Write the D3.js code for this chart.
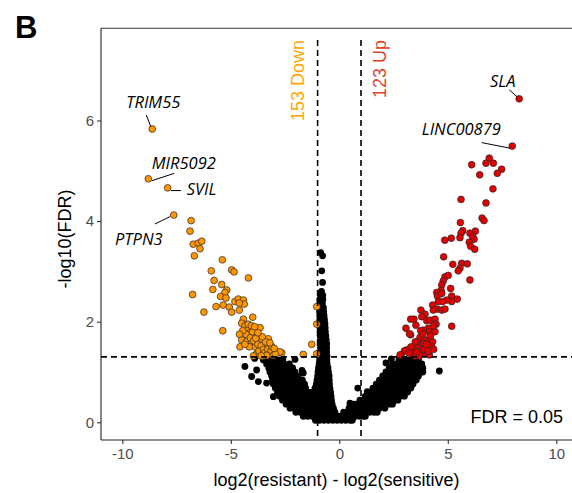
<!DOCTYPE html>
<html><head><meta charset="utf-8">
<script src="https://cdn.jsdelivr.net/npm/d3@7"></script>
<style>body{margin:0;background:#fff}</style>
</head><body><svg id="c" width="572" height="493"></svg>
<script>
const xTicks = [-10, -5, 0, 5, 10];
const yTicks = [0, 2, 4, 6];
const fcCut = 1;
const fdrLine = 1.30103; // -log10(0.05)
const downCount = "153 Down";
const upCount = "123 Up";
const fdrNote = "FDR = 0.05";
const xTitle = "log2(resistant) - log2(sensitive)";
const yTitle = "-log10(FDR)";

// significant, lower in resistant (orange)
const downPoints = [
  [-8.62,5.83],[-8.80,4.84],[-7.91,4.66],[-7.63,4.12],
  [-6.83,4.01],[-6.88,3.80],[-6.73,3.54],[-6.50,3.56],[-6.34,3.60],[-6.42,3.45],[-6.68,3.31],
  [-5.39,3.23],[-5.90,3.01],[-4.96,3.03],[-4.85,2.99],[-4.19,2.87],[-5.77,2.82],[-5.42,2.74],[-5.83,2.64],[-6.76,2.54],
  [-5.19,2.63],[-5.27,2.58],[-5.47,2.50],[-5.22,2.47],[-4.81,2.40],[-4.65,2.45],[-4.42,2.43],[-4.38,2.35],[-4.61,2.37],
  [-5.68,2.30],[-5.35,2.33],[-5.07,2.29],[-4.96,2.19],[-4.61,2.23],[-6.24,2.19],
  [-4.42,2.05],[-3.99,2.09],[-4.50,1.97],[-4.35,1.91],[-4.19,1.87],[-3.96,1.83],[-3.65,1.88],[-4.12,1.78],[-3.88,1.74],[-5.37,1.82],
  [-4.50,1.64],[-4.27,1.60],[-4.04,1.57],[-4.58,1.50],[-3.81,1.60],[-3.58,1.65],[-3.27,1.66],[-3.19,1.54],[-3.42,1.50],[-3.65,1.47],[-3.88,1.50],
  [-3.35,1.40],[-3.58,1.37],[-3.81,1.36],[-2.88,1.40],[-2.65,1.38],[-3.96,1.32],[-3.50,1.32],[-2.73,1.40],
  [-1.66,1.35],[-1.27,1.55],[-1.04,2.30],[-1.04,1.95],[-1.04,1.36],
  [-4.30,1.75],[-4.10,1.68],[-3.95,1.62],[-3.75,1.55],[-3.70,1.42],[-3.60,1.52],[-3.50,1.45],[-3.45,1.38],[-3.30,1.45],[-3.25,1.35],
  [-3.15,1.42],[-3.05,1.33],[-3.10,1.50],[-3.40,1.60],[-3.55,1.70],[-3.85,1.67],[-4.00,1.80],[-4.20,1.95],[-4.05,1.92],[-3.90,1.90],
  [-3.75,1.78],[-4.45,1.82],[-4.60,1.75],[-3.35,1.33],[-3.60,1.32],[-2.95,1.36],[-3.00,1.47],[-3.20,1.58],[-4.15,1.50],[-4.35,1.55]
];

// significant, higher in resistant (red)
const upPoints = [
  [8.29,6.43],[7.97,5.49],
  [6.91,5.25],[6.10,5.12],[6.76,5.15],[7.10,5.15],[7.48,5.03],[7.28,4.95],[6.47,4.92],[7.08,4.64],[5.61,4.43],[6.76,4.36],
  [6.58,4.06],[6.67,4.01],[5.58,3.97],[5.69,3.81],[5.61,3.76],[6.27,3.80],[6.02,3.76],[6.15,3.69],[5.56,3.67],[5.16,3.66],
  [4.86,3.62],[6.21,3.64],[5.99,3.58],[6.05,3.50],[6.24,3.44],[4.81,3.29],
  [5.23,3.14],[5.64,3.16],[5.90,3.15],[5.56,3.06],[5.48,3.01],[6.02,2.83],[4.87,2.89],[5.02,2.92],[4.79,2.81],
  [5.13,2.66],[4.72,2.73],[4.69,2.62],[4.49,2.58],[4.52,2.51],[4.72,2.56],
  [5.18,2.51],[5.44,2.45],[5.18,2.40],[4.95,2.43],[4.76,2.40],[4.56,2.40],[4.30,2.33],[4.52,2.25],[4.72,2.23],[4.87,2.25],[4.33,2.23],
  [3.76,2.23],[3.95,2.15],[3.80,2.10],[3.44,2.05],[4.03,2.02],[4.18,2.03],[4.41,2.05],[4.46,1.95],[4.33,1.91],[4.10,1.87],
  [4.15,1.80],[4.41,1.80],[3.87,1.83],[3.75,1.82],[3.53,1.93],[3.07,1.87],[3.29,1.74],[5.18,1.91],
  [3.72,1.69],[3.95,1.64],[4.18,1.65],[4.30,1.60],[3.84,1.57],[3.57,1.52],[4.03,1.50],[4.26,1.50],[3.80,1.45],[3.41,1.44],
  [3.11,1.44],[3.34,1.36],[3.00,1.42],[2.85,1.34],[3.64,1.37],[3.95,1.37],[4.15,1.34],[3.49,1.32],[2.80,1.34],[3.23,1.76],[3.29,2.05],
  [3.60,1.60],[3.90,1.45],[4.10,1.42],[3.70,1.32],[4.00,1.55],[3.50,1.60],[4.20,1.72],[3.85,1.75],[3.30,1.50],[3.20,1.38],[4.35,1.45],[3.55,1.40]
];

// non-significant genes, read row by row: [-log10(FDR), [log2 ratios]]
const nsRows = [
  [2.60, [-0.82]],
  [2.52, [-0.86,-0.76]],
  [2.44, [-0.90,-0.76]],
  [2.36, [-0.90,-0.78]],
  [2.28, [-0.92,-0.80,-0.73]],
  [2.20, [-0.91,-0.80,-0.72]],
  [2.12, [-0.90,-0.79,-0.70]],
  [2.04, [-0.90,-0.78,-0.68]],
  [1.96, [-0.89,-0.77,-0.66]],
  [1.88, [-0.89,-0.77,-0.65]],
  [1.80, [-0.88,-0.76,-0.64]],
  [1.72, [-0.88,-0.75,-0.62]],
  [1.64, [-0.87,-0.73,-0.60]],
  [1.56, [-0.86,-0.72,-0.58]],
  [1.48, [-0.87,-0.72,-0.58]],
  [1.40, [-0.88,-0.73,-0.58]],
  [1.32, [-0.89,-0.73,-0.57]],
  [1.24, [-3.50,-3.30,-3.10,-2.90,-2.75,-2.60, -0.91,-0.74,-0.57, 2.75,2.95,3.15,3.35,3.50,3.65]],
  [1.16, [-3.35,-3.15,-2.95,-2.75,-2.55,-2.30, -0.93,-0.76,-0.56, 2.45,2.65,2.85,3.05,3.25,3.45,3.65,3.80]],
  [1.08, [-3.25,-3.05,-2.85,-2.65,-2.45,-2.30,-2.15, -0.96,-0.78,-0.60,-0.52, 2.30,2.50,2.70,2.90,3.10,3.30,3.50,3.70,3.85]],
  [1.00, [-3.20,-3.00,-2.80,-2.60,-2.40,-2.20,-2.05, -0.98,-0.80,-0.62,-0.50, 2.15,2.35,2.55,2.75,2.95,3.15,3.35,3.55,3.75,3.85]],
  [0.92, [-3.12,-2.92,-2.72,-2.52,-2.32,-2.12,-1.90, -1.00,-0.82,-0.64,-0.47, 2.00,2.20,2.40,2.60,2.80,3.00,3.20,3.40,3.65]],
  [0.84, [-3.08,-2.88,-2.68,-2.48,-2.28,-2.08,-1.88,-1.70, -1.03,-0.85,-0.66,-0.46, 1.85,2.05,2.25,2.45,2.65,2.85,3.05,3.25,3.40,3.55]],
  [0.76, [-3.04,-2.84,-2.64,-2.44,-2.24,-2.04,-1.84,-1.60, -1.06,-0.88,-0.68,-0.45, 1.70,1.90,2.10,2.30,2.50,2.70,2.90,3.10,3.25,3.40]],
  [0.68, [-2.95,-2.75,-2.55,-2.35,-2.15,-1.95,-1.75,-1.55, -1.12,-0.92,-0.72,-0.55,-0.43, 1.55,1.75,1.95,2.15,2.35,2.55,2.75,2.95,3.15,3.30]],
  [0.60, [-2.85,-2.65,-2.45,-2.25,-2.05,-1.85,-1.65,-1.45,-1.25,-1.05,-0.85,-0.65,-0.50,-0.40, 1.40,1.60,1.80,2.00,2.20,2.40,2.60,2.80,3.00,3.15]],
  [0.52, [-2.75,-2.55,-2.35,-2.15,-1.95,-1.75,-1.55,-1.35,-1.15,-0.95,-0.75,-0.55,-0.38, 1.20,1.40,1.60,1.80,2.00,2.20,2.40,2.60,2.80,3.00]],
  [0.44, [-2.62,-2.42,-2.22,-2.02,-1.82,-1.62,-1.42,-1.22,-1.02,-0.82,-0.62,-0.45,-0.36, 0.95,1.15,1.35,1.55,1.75,1.95,2.15,2.35,2.55,2.70]],
  [0.36, [-2.45,-2.25,-2.05,-1.85,-1.65,-1.45,-1.25,-1.05,-0.85,-0.65,-0.48,-0.33, 0.70,0.90,1.10,1.30,1.50,1.70,1.90,2.10,2.30,2.45]],
  [0.28, [-2.27,-2.07,-1.87,-1.67,-1.47,-1.27,-1.07,-0.87,-0.67,-0.47,-0.27, 0.45,0.65,0.85,1.05,1.25,1.45,1.65,1.85,2.10]],
  [0.20, [-2.00,-1.80,-1.60,-1.40,-1.20,-1.00,-0.80,-0.60,-0.40,-0.20, 0.20,0.40,0.60,0.80,1.00,1.20,1.40,1.60,1.75]],
  [0.12, [-1.66,-1.46,-1.26,-1.06,-0.86,-0.66,-0.46,-0.26,-0.06,0.14,0.34,0.54,0.74,0.94,1.10,1.20]],
  [0.04, [-1.10,-0.90,-0.70,-0.50,-0.30,-0.10,0.10,0.30,0.50,0.60]]
];
// scattered non-significant genes outside the dense cloud
const nsScattered = [
  [-4.35,1.11],[-4.04,0.91],[-3.81,1.04],[-3.73,0.81],[-3.35,0.78],[-3.04,0.51],[-3.90,1.27],
  [-2.04,1.25],[-1.72,1.03],[-1.66,0.98],
  [-0.86,3.37],[-0.77,3.31],[-0.81,3.01],[-0.77,2.78],
  [0.49,0.38],[0.85,0.68],[1.29,0.61],[2.15,1.18],[2.40,1.26],[4.61,1.02]
];

const labels = [
  {gene:"TRIM55", x:-8.62, y:5.83},
  {gene:"MIR5092", x:-8.80, y:4.84},
  {gene:"SVIL", x:-7.91, y:4.66},
  {gene:"PTPN3", x:-7.63, y:4.12},
  {gene:"SLA", x:8.29, y:6.43},
  {gene:"LINC00879", x:7.97, y:5.49}
];
// label placement (pixel offsets from the point): text anchor, segment start, segment end
const labelLayout = {
  TRIM55:   {tx:-26, ty:-21, x1:-6, y1:-14, x2:-1.5, y2:-2.5},
  MIR5092:  {tx:3.4, ty:-9.8, x1:26, y1:-5.5, x2:3.4, y2:1.9},
  SVIL:     {tx:19, ty:7, x1:3.3, y1:2.7, x2:13.3, y2:2.7},
  PTPN3:    {tx:-58.7, ty:29.9, x1:-18.7, y1:8.9, x2:-3.7, y2:1.6},
  SLA:      {tx:-29.2, ty:-12.2, x1:-9.9, y1:-8.9, x2:-1.9, y2:-1.9},
  LINC00879:{tx:-90.5, ty:-11.2, x1:-30.5, y1:-3.5, x2:-2.2, y2:2.1}
};

const svg = d3.select("#c");
const W = 572, H = 493;
const P = {l:101, t:28.3, b:440};
const x = d3.scaleLinear().domain([-11, 11]).range([100.6, 578]);
const y = d3.scaleLinear().domain([-0.35, 7.83]).range([439.9, 28.4]);
const font = "'Liberation Sans', Arial, sans-serif";
const orange = "#FF9500", red = "#E30000";

svg.append("rect").attr("width",W).attr("height",H).attr("fill","#fff");

// clip to panel
svg.append("clipPath").attr("id","pc").append("rect")
  .attr("x",P.l).attr("y",P.t).attr("width",W-P.l).attr("height",P.b-P.t);
const g = svg.append("g").attr("clip-path","url(#pc)");

const r = 3.4;
const nsPts = nsRows.flatMap(([yy, xs]) => xs.map(xx => [xx, yy])).concat(nsScattered);
g.append("g").selectAll("circle").data(nsPts).join("circle")
  .attr("cx",d=>x(d[0])).attr("cy",d=>y(d[1])).attr("r",r).attr("fill","#000");

g.append("g").selectAll("circle").data(downPoints).join("circle")
  .attr("cx",d=>x(d[0])).attr("cy",d=>y(d[1])).attr("r",r)
  .attr("fill",orange).attr("stroke","#2a2a2a").attr("stroke-width",0.7);
g.append("g").selectAll("circle").data(upPoints).join("circle")
  .attr("cx",d=>x(d[0])).attr("cy",d=>y(d[1])).attr("r",r)
  .attr("fill",red).attr("stroke","#2a2a2a").attr("stroke-width",0.7);

// threshold lines
const dash = "6,4";
[-fcCut, fcCut].forEach(v => {
  g.append("line").attr("x1",x(v)).attr("x2",x(v)).attr("y1",y(7.6)).attr("y2",P.b)
    .attr("stroke","#000").attr("stroke-width",1.6).attr("stroke-dasharray",dash);
});
g.append("line").attr("x1",P.l).attr("x2",W).attr("y1",y(fdrLine)).attr("y2",y(fdrLine))
  .attr("stroke","#000").attr("stroke-width",1.6).attr("stroke-dasharray",dash);

// panel lines
svg.append("line").attr("x1",P.l).attr("x2",W).attr("y1",P.t).attr("y2",P.t).attr("stroke","#333").attr("stroke-width",1.1);
svg.append("line").attr("x1",P.l).attr("x2",P.l).attr("y1",P.t).attr("y2",P.b).attr("stroke","#222").attr("stroke-width",1.1);
svg.append("line").attr("x1",P.l).attr("x2",W).attr("y1",P.b).attr("y2",P.b).attr("stroke","#222").attr("stroke-width",1.1);

// axes
const xa = svg.append("g").attr("transform",`translate(0,${P.b})`)
  .call(d3.axisBottom(x).tickValues(xTicks).tickSize(4).tickPadding(4).tickFormat(d3.format("d")));
const ya = svg.append("g").attr("transform",`translate(${P.l},0)`)
  .call(d3.axisLeft(y).tickValues(yTicks).tickSize(4).tickPadding(3).tickFormat(d3.format("d")));
[xa, ya].forEach(a => {
  a.select(".domain").remove();
  a.selectAll(".tick line").attr("stroke","#333").attr("stroke-width",1.1);
  a.selectAll(".tick text").attr("fill","#4d4d4d").style("font-family",font).style("font-size","15px");
});
xa.selectAll(".tick text").text(d => d < 0 ? "-" + Math.abs(d) : d);

// titles
svg.append("text").attr("x",(P.l+W)/2).attr("y",486).attr("text-anchor","middle")
  .style("font-family",font).style("font-size","18px").attr("fill","#000").text(xTitle);
svg.append("text").attr("transform",`translate(71,${239}) rotate(-90)`).attr("text-anchor","middle")
  .style("font-family",font).style("font-size","18px").attr("fill","#000").text(yTitle);
svg.append("text").attr("x",15).attr("y",37.5).style("font-family",font).style("font-size","31px")
  .style("font-weight","bold").attr("fill","#000").text("B");

// count annotations
svg.append("text").attr("transform",`translate(303.5,40) rotate(-90)`).attr("text-anchor","end")
  .style("font-family",font).style("font-size","18px").attr("fill","#FFA500").text(downCount);
svg.append("text").attr("transform",`translate(385.5,40) rotate(-90)`).attr("text-anchor","end")
  .style("font-family",font).style("font-size","18px").attr("fill","#D9432C").text(upCount);
svg.append("text").attr("x",563).attr("y",423).attr("text-anchor","end")
  .style("font-family",font).style("font-size","18px").attr("fill","#000").text(fdrNote);

// gene labels
const lg = svg.append("g");
labels.forEach(d => {
  const L = labelLayout[d.gene], px = x(d.x), py = y(d.y);
  lg.append("line").attr("x1",px+L.x1).attr("y1",py+L.y1).attr("x2",px+L.x2).attr("y2",py+L.y2)
    .attr("stroke","#000").attr("stroke-width",1);
  lg.append("text").attr("x",px+L.tx).attr("y",py+L.ty)
    .style("font-family","'Open Sans', sans-serif").style("font-style","italic").style("font-size","16.5px")
    .attr("fill","#000").text(d.gene);
});
</script></body></html>
